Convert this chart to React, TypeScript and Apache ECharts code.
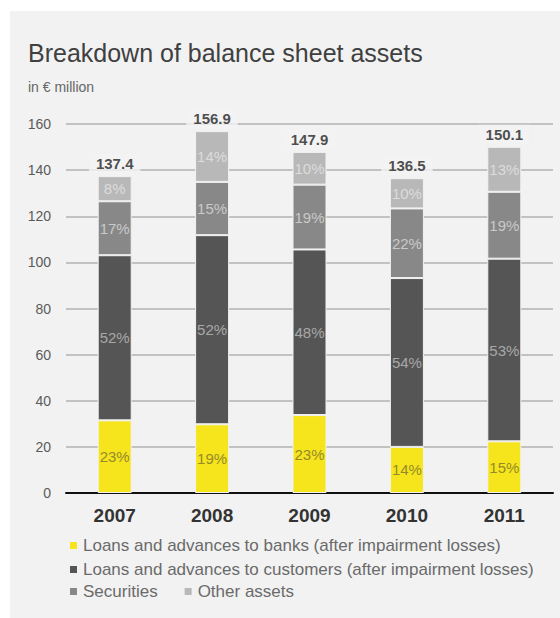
import React, { useEffect, useRef } from "react";
import * as echarts from "echarts";

const years = ["2007", "2008", "2009", "2010", "2011"];
const banks = [31.5, 29.8, 33.8, 20.0, 22.4];
const customers = [71.6, 82.0, 71.8, 73.2, 79.2];
const securities = [23.4, 23.1, 28.1, 30.2, 29.0];
const other = [10.9, 22.0, 14.2, 13.1, 19.5];
const totals = [137.4, 156.9, 147.9, 136.5, 150.1];
const banksPct = ["23%", "19%", "23%", "14%", "15%"];
const customersPct = ["52%", "52%", "48%", "54%", "53%"];
const securitiesPct = ["17%", "15%", "19%", "22%", "19%"];
const otherPct = ["8%", "14%", "10%", "10%", "13%"];
const yTicks = [0, 20, 40, 60, 80, 100, 120, 140, 160];

const names = [
  "Loans and advances to banks (after impairment losses)",
  "Loans and advances to customers (after impairment losses)",
  "Securities",
  "Other assets",
];
const colors = ["#f6e51c", "#555555", "#888888", "#b8b8b8"];
const labelColors = ["#948a2a", "#a8a8a8", "#c9c9c9", "#dcdcdc"];

const FONT = "'Liberation Sans', Arial, sans-serif";
const BG = "#f2f2f2";

export default function App() {
  const ref = useRef<HTMLDivElement>(null);
  useEffect(() => {
    document.body.style.margin = "0";
    const chart = echarts.init(ref.current!, null, { renderer: "svg" });
    const values = [banks, customers, securities, other];
    const pcts = [banksPct, customersPct, securitiesPct, otherPct];
    const barSeries = values.map((d, i) => ({
      name: names[i],
      type: "bar",
      stack: "assets",
      barWidth: 34,
      data: d,
      itemStyle: { color: colors[i], borderColor: BG, borderWidth: 1 },
      label: {
        show: true,
        position: "inside",
        fontFamily: FONT,
        fontSize: 15,
        color: labelColors[i],
        formatter: (p: any) => pcts[i][p.dataIndex],
      },
      z: 3,
    }));
    const legendText = { fontFamily: FONT, fontSize: 17, color: "#6a6a6a" };
    const legendBase = {
      left: 63,
      itemWidth: 9,
      itemHeight: 9,
      icon: "rect",
      padding: [2, 5],
      textStyle: legendText,
    };
    chart.setOption({
      animation: false,
      backgroundColor: "#ffffff",
      textStyle: { fontFamily: FONT },
      graphic: [
        {
          type: "rect",
          shape: { x: 10, y: 11, width: 550, height: 607 },
          style: { fill: BG },
          z: -10,
          silent: true,
        },
        {
          type: "text",
          x: 28,
          y: 40,
          style: {
            text: "Breakdown of balance sheet assets",
            fontFamily: FONT,
            fontSize: 25,
            fill: "#404040",
          },
        },
        {
          type: "text",
          x: 28,
          y: 80,
          style: {
            text: "in € million",
            fontFamily: FONT,
            fontSize: 14,
            fill: "#666666",
          },
        },
      ],
      legend: [
        { ...legendBase, data: [names[0]], top: 535 },
        { ...legendBase, data: [names[1]], top: 559 },
        { ...legendBase, data: [names[2], names[3]], top: 581, itemGap: 25 },
      ],
      grid: { left: 66, right: 7, top: 124, bottom: 125 },
      xAxis: {
        type: "category",
        data: years,
        axisLine: { lineStyle: { color: "#111111", width: 2 } },
        axisTick: { show: false },
        axisLabel: {
          fontFamily: FONT,
          fontSize: 19,
          fontWeight: "bold",
          color: "#333333",
          margin: 13,
        },
      },
      yAxis: {
        type: "value",
        min: yTicks[0],
        max: yTicks[yTicks.length - 1],
        interval: 20,
        axisLine: { show: false },
        axisTick: { show: false },
        axisLabel: { fontFamily: FONT, fontSize: 14, color: "#5a5a5a", margin: 15 },
        splitLine: { lineStyle: { color: "#b2b2b2", width: 1.5 } },
      },
      series: [
        ...barSeries,
        {
          name: "total",
          type: "scatter",
          data: totals,
          symbolSize: 0,
          z: 5,
          label: {
            show: true,
            position: "top",
            distance: 3,
            fontFamily: FONT,
            fontSize: 15,
            fontWeight: "bold",
            color: "#222222",
            backgroundColor: BG,
            padding: [2, 7],
            formatter: (p: any) => totals[p.dataIndex].toFixed(1),
          },
        },
      ],
    });
    return () => chart.dispose();
  }, []);
  return <div ref={ref} style={{ width: 560, height: 618 }} />;
}
